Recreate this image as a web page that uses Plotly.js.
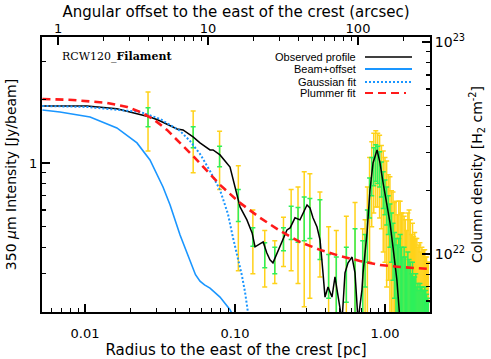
<!DOCTYPE html>
<html>
<head>
<meta charset="utf-8">
<script src="https://cdn.plot.ly/plotly-3.0.1.min.js"></script>
<style>
  html, body { margin: 0; padding: 0; background: #fff; }
  #plot { width: 491px; height: 359px; }
</style>
</head>
<body>
<div id="plot"></div>
<script>
// radial profile east of the crest (pc, Jy/beam)
const obsR = [0.0052,0.0103,0.0163,0.0271,0.0307,0.0411,0.045,0.0525,0.0584,0.0681,0.0714,0.0794,0.0926,0.097,0.1031,0.108,0.120,0.130,0.136,0.142,0.154,0.163,0.171,0.179,0.194,0.206,0.222,0.233,0.251,0.271,0.284,0.302,0.316,0.331,0.352,0.369,0.386,0.398,0.417,0.443,0.464,0.486,0.517,0.541,0.567,0.603,0.631,0.661,0.702,0.714,0.759,0.794,0.832,0.885,0.926,0.970,1.031,1.08,1.13,1.20,1.259,1.36,1.47,1.585,1.71,1.85,1.99];
const obsI = [1.857,1.857,1.80,1.648,1.595,1.446,1.431,1.326,1.243,1.152,1.152,1.091,0.957,0.831,0.691,0.62,0.539,0.468,0.402,0.41,0.424,0.376,0.349,0.338,0.389,0.433,0.483,0.494,0.551,0.539,0.581,0.634,0.614,0.551,0.499,0.433,0.303,0.233,0.26,0.233,0.29,0.233,0.18,0.303,0.338,0.36,0.303,0.18,0.252,0.303,0.468,0.746,1.0,1.152,1.0,0.81,0.62,0.521,0.402,0.281,0.18,0.16,0.15,0.16,0.15,0.16,0.15];

// error bars: total (yellow) and statistical (green)
const errR = [0.0263,0.0526,0.0789,0.1052,0.1315,0.1578,0.1841,0.2104,0.2367,0.263,0.2893,0.3156,0.3682,0.4208,0.4734,0.5523,0.6312,0.7101,
  0.7364,0.7627,0.789,0.8153,0.8416,0.8679,0.8942,0.9205,0.9468,0.9731,0.9994,1.0257,1.052,1.0783,1.1046,1.1309,1.1572,1.1835,1.2098,1.2361,1.2624,1.2887,1.315,1.3413,1.3676,1.3939,1.4202,1.4465,1.4728,1.4991,1.5254,1.5517,1.578,1.6043,1.6306,1.6569,1.6832,1.7095,1.7358,1.7621,1.7884,1.8147,1.841,1.8673,1.8936,1.9199,1.9462];
const errI = [1.65,1.33,1.08,0.64,0.45,0.37,0.35,0.44,0.53,0.52,0.56,0.56,0.51,0.30,0.25,0.31,0.30,0.28,
  0.36,0.47,0.70,0.88,0.98,1.02,1.00,0.95,0.85,0.76,0.70,0.64,0.58,0.52,0.46,0.40,0.35,0.30,0.27,0.24,0.26,0.22,0.20,0.24,0.20,0.18,0.22,0.20,0.18,0.16,0.20,0.17,0.15,0.18,0.14,0.16,0.13,0.16,0.14,0.12,0.15,0.13,0.12,0.14,0.12,0.11,0.12];
const errTot = [0.51,0.43,0.33,0.33,0.15,0.11,0.08,0.115,0.22,0.25,0.35,0.33,0.22,0.20,0.23,0.25,0.35,0.21,
  0.18,0.30,0.36,0.38,0.40,0.40,0.38,0.40,0.36,0.38,0.36,0.38,0.30,0.34,0.28,0.33,0.30,0.36,0.30,0.42,0.40,0.36,0.38,0.32,0.34,0.30,0.36,0.40,0.36,0.30,0.32,0.28,0.32,0.26,0.30,0.24,0.28,0.26,0.24,0.28,0.22,0.26,0.27,0.22,0.24,0.23,0.22];
const errStat = [0.17,0.15,0.12,0.11,0.045,0.05,0.05,0.055,0.095,0.097,0.13,0.12,0.16,0.07,0.11,0.09,0.19,0.15,
  0.10,0.13,0.15,0.18,0.20,0.20,0.20,0.18,0.16,0.15,0.13,0.13,0.12,0.12,0.12,0.12,0.12,0.14,0.14,0.20,0.20,0.18,0.16,0.16,0.16,0.14,0.16,0.15,0.16,0.14,0.14,0.12,0.14,0.12,0.12,0.11,0.12,0.11,0.12,0.14,0.10,0.12,0.14,0.11,0.12,0.12,0.10];

// beam + offset, Gaussian fit, Plummer fit
const beamR = [0.0052,0.0068,0.0108,0.0163,0.0222,0.0271,0.0331,0.0369,0.043,0.0501,0.0545,0.0584,0.0626,0.0681,0.0794,0.0926,0.097];
const beamI = [1.778,1.74,1.648,1.462,1.243,1.033,0.77,0.634,0.457,0.341,0.297,0.277,0.266,0.257,0.233,0.203,0.19];
const gaussR = [0.0052,0.0103,0.0233,0.0316,0.043,0.0501,0.0584,0.0681,0.0794,0.0897,0.097,0.1047,0.111,0.1166,0.120,0.124];
const gaussI = [1.857,1.837,1.740,1.613,1.416,1.270,1.103,0.917,0.746,0.575,0.443,0.356,0.296,0.246,0.209,0.182];
const plumR = [0.0052,0.0083,0.014,0.0191,0.0233,0.0284,0.0352,0.043,0.0525,0.0651,0.0794,0.108,0.147,0.2,0.271,0.369,0.501,0.681,0.926,1.259,1.995];
const plumI = [2.004,1.982,1.919,1.837,1.740,1.613,1.431,1.243,1.079,0.917,0.788,0.648,0.551,0.478,0.424,0.389,0.364,0.345,0.33,0.323,0.316];

// ticks
const xMajor = [0.01, 0.1, 1];
const xLabels = ['0.01', '0.10', '1.00'];
const xMinor = [0.006,0.007,0.008,0.009,0.02,0.03,0.04,0.05,0.06,0.07,0.08,0.09,0.2,0.3,0.4,0.5,0.6,0.7,0.8,0.9];
const topMajor = [1, 10, 100];
const topLabels = ['1', '10', '100'];
const topMinor = [2,3,4,5,6,7,8,9,20,30,40,50,60,70,80,90,200,300];
const yMajor = [1];
const yLabels = ['1'];
const yMinor = [0.3,0.4,0.5,0.6,0.7,0.8,0.9,2,3];
const y2Major = [1e22, 1e23];
const y2Labels = ['10<sup>22</sup>', '10<sup>23</sup>'];
const y2Minor = [6e21,7e21,8e21,9e21,2e22,3e22,4e22,5e22,6e22,7e22,8e22,9e22];

const legendNames = ['Observed profile', 'Beam+offset', 'Gaussian fit', 'Plummer fit'];

const BLUE = '#1a96ff';
const RED = '#ff1a1a';
const YELLOW = '#ffd21a';
const GREEN = '#2ef05a';
const legendColors = ['black', BLUE, BLUE, RED];
const legendDash = ['solid', 'solid', '2px,2px', '8px,5px'];
const SANS = 'DejaVu Sans, Verdana, sans-serif';

const traces = [
  {x: errR, y: errI, type: 'scatter', mode: 'markers', marker: {size: 1, opacity: 0},
   error_y: {type: 'data', array: errTot, symmetric: true, color: YELLOW, thickness: 1.5, width: 2.5},
   hoverinfo: 'skip'},
  {x: errR, y: errI, type: 'scatter', mode: 'markers', marker: {size: 1, opacity: 0},
   error_y: {type: 'data', array: errStat, symmetric: true, color: GREEN, thickness: 1.5, width: 2.5},
   hoverinfo: 'skip'},
  {x: obsR, y: obsI, type: 'scatter', mode: 'lines', line: {color: 'black', width: 1.5}},
  {x: beamR, y: beamI, type: 'scatter', mode: 'lines', line: {color: BLUE, width: 1.6}},
  {x: gaussR, y: gaussI, type: 'scatter', mode: 'lines', line: {color: BLUE, width: 2, dash: '2px,2px'}},
  {x: plumR, y: plumI, type: 'scatter', mode: 'lines', line: {color: RED, width: 2.6, dash: '8px,5px'}},
  // empty traces so the top and right axes get drawn
  {x: [], y: [], xaxis: 'x2', yaxis: 'y', type: 'scatter', hoverinfo: 'skip'},
  {x: [], y: [], xaxis: 'x', yaxis: 'y2', type: 'scatter', hoverinfo: 'skip'}
];

// plot area in pixels: x 42..430, y 37..312
const L = 42, R = 430, T = 37, B = 312;
const px = v => (v - L) / (R - L);
const py = v => (B - v) / (B - T);

const annotations = [
  {xref: 'paper', yref: 'paper', x: px(60), y: py(56), xanchor: 'left', yanchor: 'middle', showarrow: false,
   text: 'RCW120_<b>Filament</b>', font: {family: 'DejaVu Serif, Times New Roman, serif', size: 11, color: 'black'}}
];
const shapes = [];
const rowsY = [57, 69, 82, 93];
legendNames.forEach((name, i) => {
  annotations.push({xref: 'paper', yref: 'paper', x: px(358), y: py(rowsY[i]), xanchor: 'right', yanchor: 'middle',
    showarrow: false, text: name, font: {family: 'Liberation Sans, Arial, sans-serif', size: 11, color: 'black'}});
  shapes.push({type: 'line', xref: 'paper', yref: 'paper', x0: px(365), x1: px(i === 3 ? 406 : 412),
    y0: py(rowsY[i]), y1: py(rowsY[i]),
    line: {color: legendColors[i], width: i === 0 ? 1.5 : 2, dash: legendDash[i]}});
});

const axisBase = {
  type: 'log', showgrid: false, zeroline: false, showline: true, linecolor: 'black', linewidth: 2,
  ticks: 'inside', ticklen: 8, tickwidth: 1.5, tickcolor: 'black', tickfont: {family: SANS, size: 13, color: 'black'}
};
const minorBase = {ticks: 'inside', ticklen: 4, tickwidth: 1.2, tickcolor: 'black', showgrid: false};

const layout = {
  width: 491, height: 359,
  margin: {l: L, r: 491 - R, t: T, b: 359 - B},
  paper_bgcolor: 'white', plot_bgcolor: 'white',
  showlegend: false,
  font: {family: SANS, size: 14, color: 'black'},
  xaxis: Object.assign({}, axisBase, {
    range: [-2.287, 0.3], tickvals: xMajor, ticktext: xLabels, ticklabelstandoff: 8,
    minor: Object.assign({tickvals: xMinor}, minorBase),
    title: {text: 'Radius to the east of the crest [pc]', standoff: 2, font: {family: SANS, size: 15}}
  }),
  xaxis2: Object.assign({}, axisBase, {
    overlaying: 'x', side: 'top', anchor: 'y',
    range: [-0.107, 2.48], tickvals: topMajor, ticktext: topLabels, ticklabelstandoff: -3,
    minor: Object.assign({tickvals: topMinor}, minorBase),
    title: {text: 'Angular offset to the east of the crest (arcsec)', standoff: 0, font: {family: SANS, size: 15}}
  }),
  yaxis: Object.assign({}, axisBase, {
    range: [-0.703, 0.594], tickvals: yMajor, ticktext: yLabels,
    minor: Object.assign({tickvals: yMinor}, minorBase),
    title: {text: '350 <i>μ</i>m Intensity [Jy/beam]', standoff: 9, font: {family: SANS, size: 14}}
  }),
  yaxis2: Object.assign({}, axisBase, {
    overlaying: 'y', side: 'right', anchor: 'x',
    range: [21.726, 23.024], tickvals: y2Major, ticktext: y2Labels,
    tickfont: {family: SANS, size: 14, color: 'black'},
    minor: Object.assign({tickvals: y2Minor}, minorBase),
    title: {text: 'Column density [H<sub>2</sub> cm<sup>-2</sup>]', standoff: 8, font: {family: SANS, size: 14}}
  }),
  annotations: annotations,
  shapes: shapes
};

Plotly.newPlot('plot', traces, layout, {displayModeBar: false, staticPlot: true});
</script>
</body>
</html>
